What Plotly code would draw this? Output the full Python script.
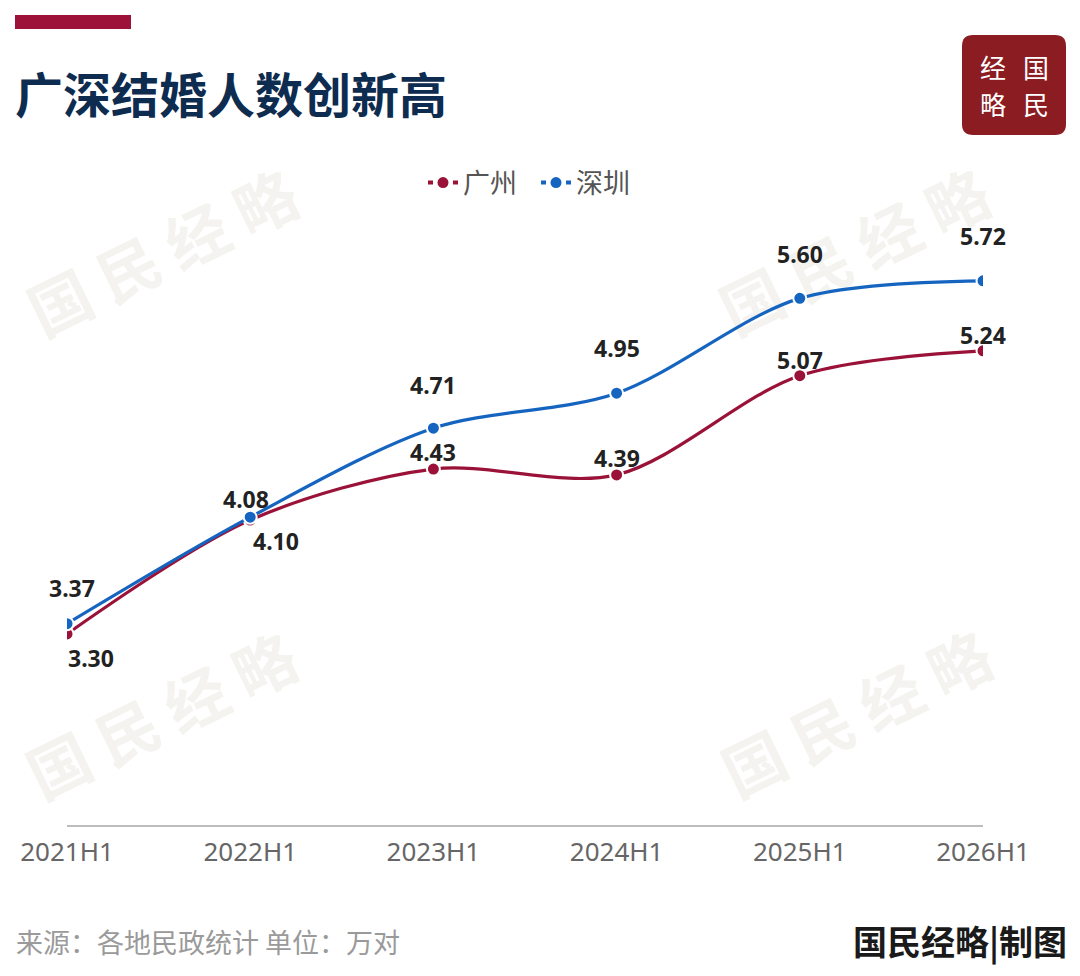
import plotly.graph_objects as go

# data
periods = ['2021H1', '2022H1', '2023H1', '2024H1', '2025H1', '2026H1']
guangzhou = [3.30, 4.08, 4.43, 4.39, 5.07, 5.24]
shenzhen = [3.37, 4.10, 4.71, 4.95, 5.60, 5.72]

GZ_COLOR = '#9b1239'
SZ_COLOR = '#1565c0'
CJK = 'Noto Sans CJK SC'

# page body adds 8px margin, so the figure is drawn 8px in from the corner
OFF = 8
W, H = 1072, 960
# plot area in page pixels: x 67..983, y 240..825
L, T = 67 - OFF, 240 - OFF
R = W - (983 - OFF)
B = H - (825 - OFF)
PW, PH = W - L - R, H - T - B


def px_x(px):
    return (px - OFF - L) / PW


def px_y(py):
    return (H - B - (py - OFF)) / PH


fig = go.Figure()

# lines, shenzhen drawn last so it sits on top at the crossing
for name, vals, color in [('广州', guangzhou, GZ_COLOR), ('深圳', shenzhen, SZ_COLOR)]:
    fig.add_trace(go.Scatter(
        x=periods, y=vals, name=name, mode='lines+markers', showlegend=False,
        line=dict(color=color, width=3.2, shape='spline', smoothing=0.9),
        marker=dict(size=13, color=color, line=dict(color='white', width=2)),
        hoverinfo='skip'))

# legend-only traces (dashed look)
for name, color in [('广州', GZ_COLOR), ('深圳', SZ_COLOR)]:
    fig.add_trace(go.Scatter(
        x=[None], y=[None], name=name, mode='lines+markers',
        line=dict(color=color, width=4, dash='5px,20px'),
        marker=dict(size=11, color=color)))

# value labels (pixel offsets picked per point)
gz_shift = [(24, -24), (-4, 21), (0, 17), (0, 17), (0, 16), (0, 16)]
sz_shift = [(5, 36), (26, -24), (0, 43), (0, 45), (0, 44), (0, 45)]
annotations = []
for vals, shifts in [(guangzhou, gz_shift), (shenzhen, sz_shift)]:
    for p, v, (dx, dy) in zip(periods, vals, shifts):
        annotations.append(dict(
            x=p, y=v, xref='x', yref='y', text=f'{v:.2f}', showarrow=False,
            xshift=dx, yshift=dy, xanchor='center', yanchor='middle',
            font=dict(family='Noto Sans, ' + CJK, size=23, color='#222222', weight='bold')))

# title
annotations.append(dict(
    x=px_x(13), y=px_y(92), xref='paper', yref='paper', text='广深结婚人数创新高',
    showarrow=False, xanchor='left', yanchor='middle',
    font=dict(family=CJK, size=48, color='#0d2c4f', weight='bold')))

# footer
annotations.append(dict(
    x=px_x(14), y=px_y(941), xref='paper', yref='paper', text='来源：各地民政统计 单位：万对',
    showarrow=False, xanchor='left', yanchor='middle',
    font=dict(family=CJK, size=27, color='#9a9a9a')))
annotations.append(dict(
    x=px_x(1069), y=px_y(940), xref='paper', yref='paper', text='国民经略|制图',
    showarrow=False, xanchor='right', yanchor='middle',
    font=dict(family=CJK, size=34, color='#1a1a1a', weight='bold')))

# logo characters
for ch, cx, cy in [('经', 993, 67), ('国', 1036, 67), ('略', 993, 104), ('民', 1036, 104)]:
    annotations.append(dict(
        x=px_x(cx), y=px_y(cy), xref='paper', yref='paper', text=ch, showarrow=False,
        xanchor='center', yanchor='middle', borderpad=0,
        font=dict(family=CJK, size=26, color='white')))

shapes = []
# top accent bar
shapes.append(dict(type='rect', xref='paper', yref='paper',
                   x0=px_x(15), x1=px_x(131), y0=px_y(15), y1=px_y(29),
                   fillcolor='#9c1239', line=dict(width=0)))

# logo box with rounded corners
x0, x1, y0, y1, r = 962, 1066, 35, 135, 11
pts = [
    ('M', x0 + r, y0), ('L', x1 - r, y0), ('Q', x1, y0, x1, y0 + r),
    ('L', x1, y1 - r), ('Q', x1, y1, x1 - r, y1), ('L', x0 + r, y1),
    ('Q', x0, y1, x0, y1 - r), ('L', x0, y0 + r), ('Q', x0, y0, x0 + r, y0),
]
path = ''
for seg in pts:
    cmd, coords = seg[0], seg[1:]
    xy = []
    for i in range(0, len(coords), 2):
        xy.append(f'{px_x(coords[i]):.5f},{px_y(coords[i + 1]):.5f}')
    path += cmd + ' ' + ' '.join(xy) + ' '
shapes.append(dict(type='path', xref='paper', yref='paper', path=path + 'Z',
                   fillcolor='#8a1c22', line=dict(width=0)))

# watermarks, kept under the lines
for cx, cy in [(166, 259), (858, 258), (165, 722), (860, 720)]:
    shapes.append(dict(
        type='rect', xref='paper', yref='paper', layer='below',
        x0=px_x(cx - 5), x1=px_x(cx + 5), y0=px_y(cy + 5), y1=px_y(cy - 5),
        line=dict(width=0), fillcolor='rgba(0,0,0,0)',
        label=dict(text='国 民 经 略', textangle=-26, textposition='middle center',
                   font=dict(family=CJK, size=62, color='#f4f3f0', weight='bold'))))

fig.update_layout(
    width=W, height=H,
    margin=dict(l=L, r=R, t=T, b=B),
    paper_bgcolor='white', plot_bgcolor='white',
    showlegend=True,
    legend=dict(orientation='h', x=px_x(536), xanchor='center', y=px_y(183), yanchor='middle',
                font=dict(family=CJK, size=27, color='#555555'),
                itemwidth=30, entrywidth=68, entrywidthmode='pixels',
                bgcolor='rgba(0,0,0,0)'),
    annotations=annotations,
    shapes=shapes,
)
fig.update_xaxes(
    type='category', range=[0, 5], showgrid=False, zeroline=False,
    showline=True, linecolor='#bdbdbd', linewidth=2,
    ticks='', ticklabelstandoff=3,
    tickfont=dict(family='Noto Sans, ' + CJK, size=26, color='#666666'))
fig.update_yaxes(range=[1.99, 6.0], visible=False, showgrid=False, zeroline=False)

fig.write_html('out.html')
